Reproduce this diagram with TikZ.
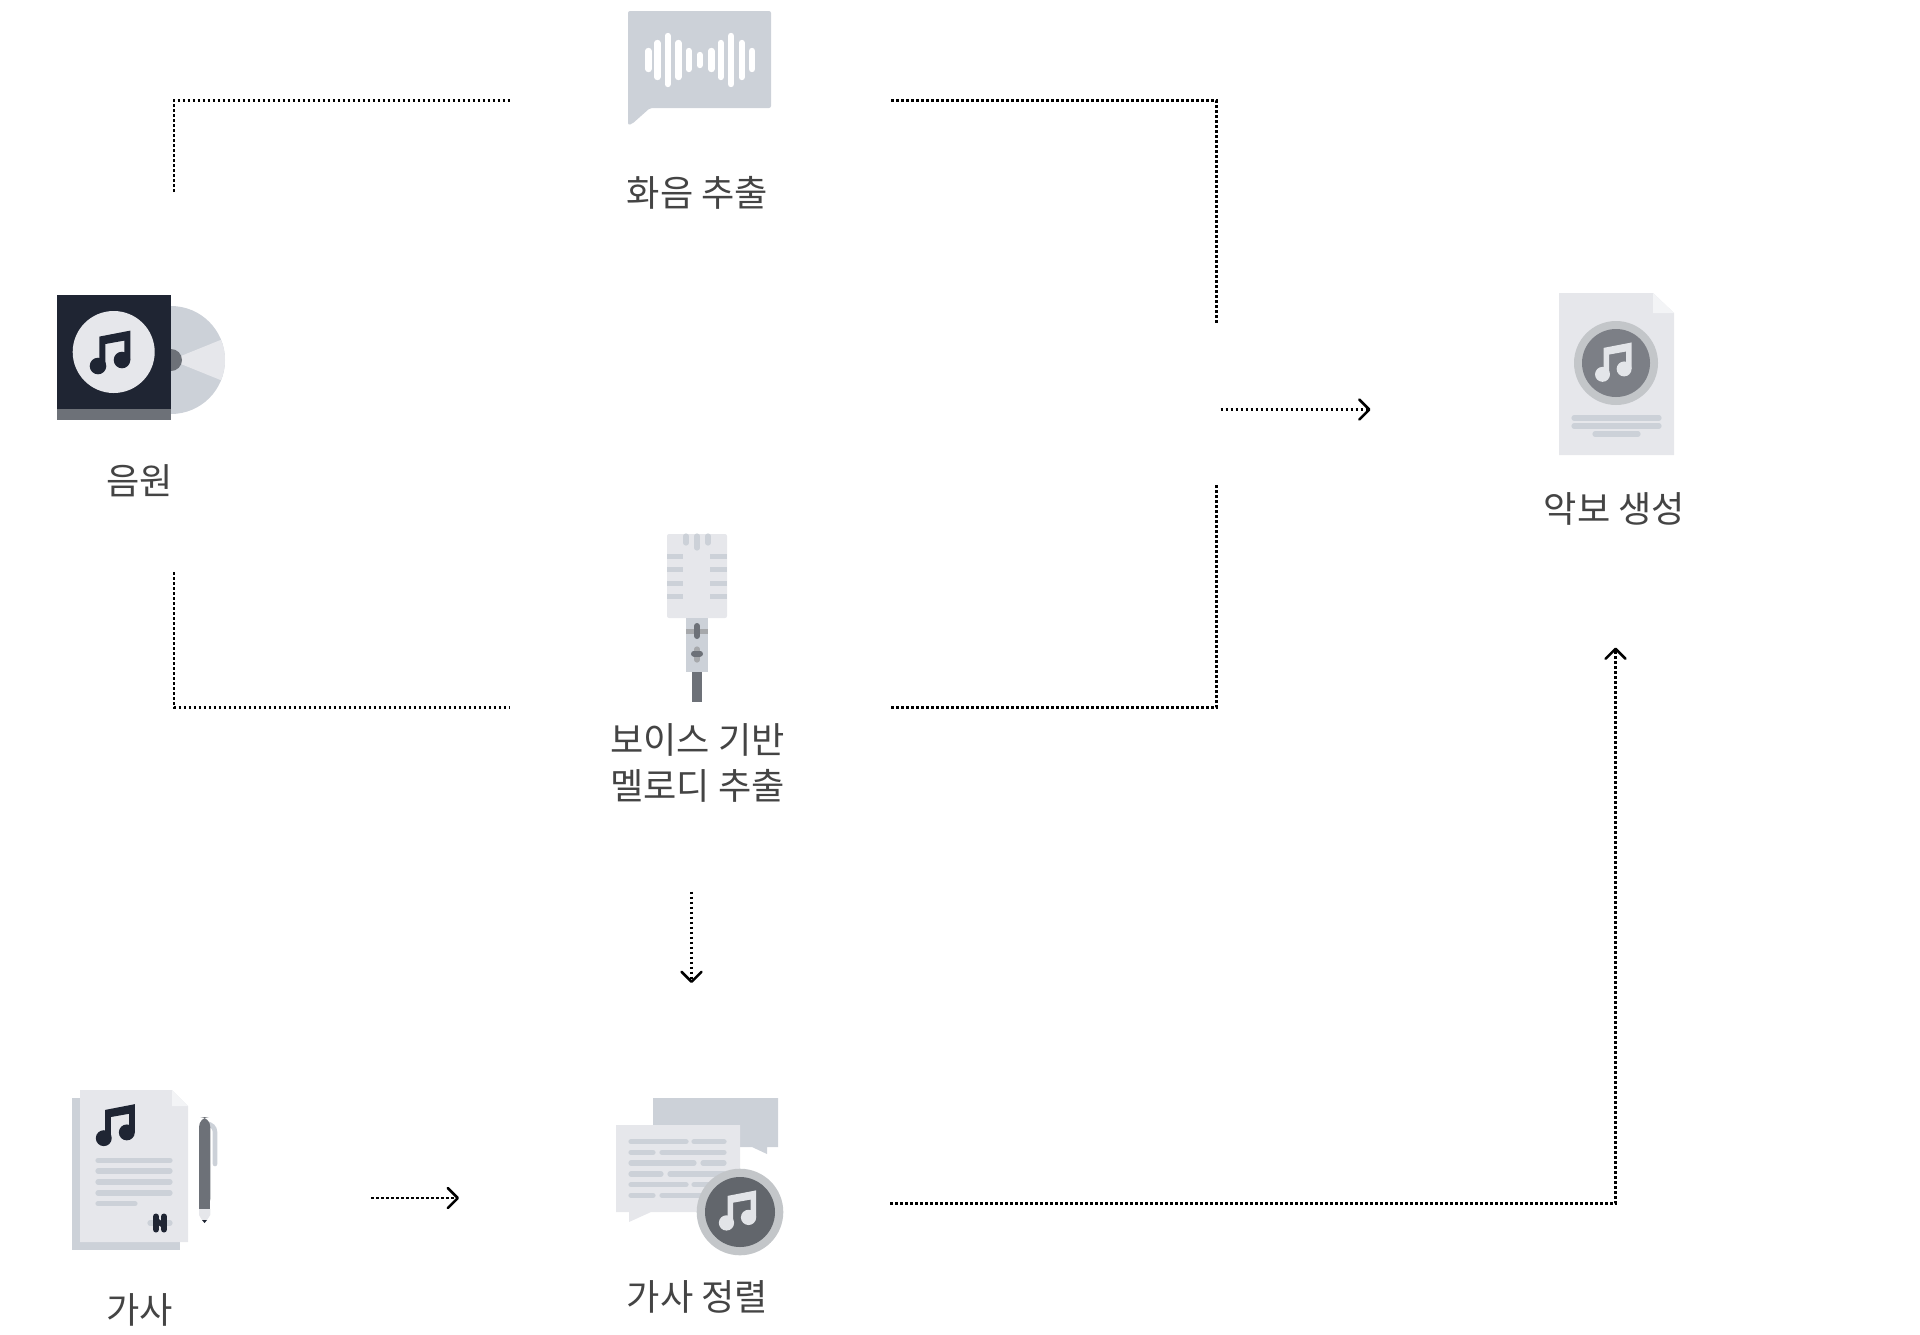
\documentclass[tikz,border=0pt]{standalone}
\usepackage{fontspec}
\setmainfont{Noto Sans CJK KR}
\usetikzlibrary{arrows.meta}
\definecolor{ink}{HTML}{1F2533}
\definecolor{slate}{HTML}{6D7178}
\definecolor{mist}{HTML}{CCD1D8}
\definecolor{paper}{HTML}{E6E7EB}
\definecolor{foldc}{HTML}{F3F4F6}
\definecolor{ring}{HTML}{C3C6C9}
\definecolor{labelc}{HTML}{444444}
\tikzset{
  hub/.style={inner sep=0pt,outer sep=0pt,minimum width=1pt,minimum height=1pt},
  flow/.style={black,line width=1.1pt,dash pattern=on 1.3pt off 1.2pt},
  flowtip/.style={flow,-{Straight Barb[length=5pt,width=10pt,line width=1.25pt,round]}},
  lbl/.style={font=\fontsize{18.1}{23}\selectfont,text=labelc,align=center,inner sep=0pt},
  bar/.style={line cap=round,line width=2.6pt,mist},
  wave/.style={line cap=round,line width=3.2pt,white},
  flatbar/.style={line width=2.5pt,mist},
  musicnote/.pic={
    \fill[pic actions] (-12,13.7) circle (8.3) (12,7.7) circle (8.3);
    \fill[pic actions] (-10.7,13.7) -- (-10.7,-15.7) -- (20.3,-21.7) -- (20.3,7.7) -- (14.3,7.7) -- (14.3,-11.7) -- (-4.7,-8.3) -- (-4.7,13.7) -- cycle;
  }
}
\begin{document}
\begin{tikzpicture}[x=0.5pt,y=-0.5pt]
\useasboundingbox (0,0) rectangle (1920,1334);

% ---- album icon
\fill[mist] (171,306) arc (-90:90:54) -- cycle;
\fill[paper] (171,360) -- ++(22:54) arc (22:-22:54) -- cycle;
\fill[slate] (171,349) arc (-90:90:11) -- cycle;
\fill[ink] (57,295) rectangle (171,409);
\fill[slate] (57,409) rectangle (171,420);
\fill[paper] (113.7,352) circle (41);
\pic[fill=ink] at (110,352.3) {musicnote};

% ---- chord bubble icon
\fill[mist,rounded corners=1pt] (628,11) -- (771,11) -- (771,108) -- (650,108) -- (632,124) -- (628,125) -- cycle;
\foreach \x/\h in {648.3/9,657.3/17,667.7/24,678.3/17,688.7/9,699.7/5,711.3/9,720.7/17,731/24,741.7/17,752/9}
  \draw[wave] (\x,60-\h) -- (\x,60+\h);

% ---- microphone icon
\fill[paper,rounded corners=1pt] (667,534) rectangle (727,618);
\foreach \x in {686,697,708} \draw[bar,line width=2.6pt] (\x,536) -- (\x,{\x==697?548:543});
\foreach \y in {556,569,583,596} {
  \draw[flatbar] (667,\y) -- (683,\y);
  \draw[flatbar] (710,\y) -- (727,\y);
}
\fill[mist] (686,618) rectangle (708,672);
\fill[ring!85!black] (686,629) rectangle (708,634);
\draw[line cap=round,line width=3pt,slate] (697,626) -- (697,636);
\draw[line cap=round,line width=2.6pt,ring!85!black] (697,649) -- (697,660);
\draw[line cap=round,line width=3pt,slate] (694,653.5) -- (700,653.5);
\fill[slate] (692,672) rectangle (702,702);

% ---- score document icon
\fill[paper] (1559,293) -- (1653,293) -- (1674,313) -- (1674,455) -- (1559,455) -- cycle;
\fill[foldc] (1653,293) -- (1653,313) -- (1674,313) -- cycle;
\fill[ring] (1616,363) circle (42);
\fill[slate!90!white] (1616,363) circle (34);
\pic[fill=paper!90!mist,scale=0.9] at (1613.3,362) {musicnote};
\draw[bar] (1574,418) -- (1659,418);
\draw[bar] (1574,426) -- (1659,426);
\draw[bar] (1595,434) -- (1638,434);

% ---- lyrics icon
\fill[mist] (72,1098) rectangle (180,1250);
\fill[paper] (80,1090) -- (172,1090) -- (188,1106) -- (188,1242) -- (80,1242) -- cycle;
\fill[foldc] (172,1090) -- (172,1106) -- (188,1106) -- cycle;
\pic[fill=ink,scale=0.96] at (115.3,1125) {musicnote};
\foreach \y in {1160.3,1171,1182,1193} \draw[bar] (98,\y) -- (170,\y);
\draw[bar] (98,1203.7) -- (135,1203.7);
\draw[bar] (150,1223) -- (170,1223);
\draw[ink,line width=3pt,line cap=round] (156,1216.5) -- (156,1229.5) (164,1216.5) -- (164,1229.5);
\draw[ink,line width=2.5pt] (156,1220) -- (164,1226);
% pen
\draw[mist,line width=2.3pt,line cap=round,rounded corners=4pt] (209,1124) -- (215,1124) -- (215,1164);
\fill[slate,rounded corners=5pt] (199,1209) -- (199,1117) -- (210.3,1117) -- (210.3,1209) -- cycle;
\fill[slate] (199,1200) rectangle (210.3,1209);
\fill[paper] (199,1209) -- (210.3,1209) -- (210.3,1215) -- (207,1220) -- (202,1220) -- (199,1215) -- cycle;
\fill[ink] (202,1220) -- (207,1220) -- (204.6,1223) -- cycle;

% ---- lyric alignment icon
\fill[mist] (653,1098) -- (778,1098) -- (778,1147) -- (767,1147) -- (767,1154) -- (752,1147) -- (653,1147) -- cycle;
\fill[paper] (616,1125) -- (740,1125) -- (740,1212) -- (651,1212) -- (629,1222) -- (629,1212) -- (616,1212) -- cycle;
\foreach \y/\a/\b/\c in {1141.7/686/694/724,1152.3/653/662/724,1163/694/703/724,1174/661/670/724,1184.7/686/694/724,1195.3/653/662/724}
{
  \draw[bar] (631,\y) -- (\a,\y);
  \draw[bar] (\b,\y) -- (\c,\y);
}
\fill[ring] (740,1212) circle (43.3);
\fill[slate!90!black] (740,1212) circle (35);
\pic[fill=paper!90!ring,scale=0.92] at (737.5,1210.3) {musicnote};

% ---- labels
\node[lbl] (chordlabel) at (697.5,192.5) {화음 추출};
\node[lbl] (srclabel) at (139.5,480.5) {음원};
\node[lbl] (melodylabel) at (697.5,763) {보이스 기반\\멜로디 추출};
\node[lbl] (resultlabel) at (1614.5,509) {악보 생성};
\node[lbl] (lyricslabel) at (139.5,1309.5) {가사};
\node[lbl] (alignlabel) at (697.5,1296.5) {가사 정렬};

% ---- invisible block outlines the connectors attach to
\node[hub,minimum height=190pt] (src) at (174,382) {};
\node[hub,minimum width=190.5pt] (chord) at (700.5,100.5) {};
\node[hub,minimum width=190.5pt,minimum height=184pt] (melody) at (700.5,707.5) {};
\node[hub,minimum width=4pt,minimum height=80.5pt] (merge) at (1216.5,403.5) {};
\node[hub,minimum width=245pt,minimum height=238pt] (result) at (1615.5,409.5) {};
\node[hub,minimum width=233pt] (lyrics) at (138,1198) {};
\node[hub,minimum width=215.5pt,minimum height=217pt] (align) at (674.5,1198) {};
\coordinate (alignin) at ([xshift=8.5pt,yshift=-1pt]align.north);

% ---- connectors
\draw[flow] (src.north) |- (chord.west);
\draw[flow] (chord.east) -| (merge.north);
\draw[flow] (src.south) |- (melody.west);
\draw[flow] (melody.east) -| (merge.south);
\draw[flowtip] (merge.east |- result.west) -- (result.west);
\draw[flowtip] (melody.south -| alignin) -- (alignin);
\draw[flowtip] (lyrics.east) -- (align.west);
\draw[flowtip] ([yshift=-2.75pt]align.east) -| (result.south);
\end{tikzpicture}
\end{document}
